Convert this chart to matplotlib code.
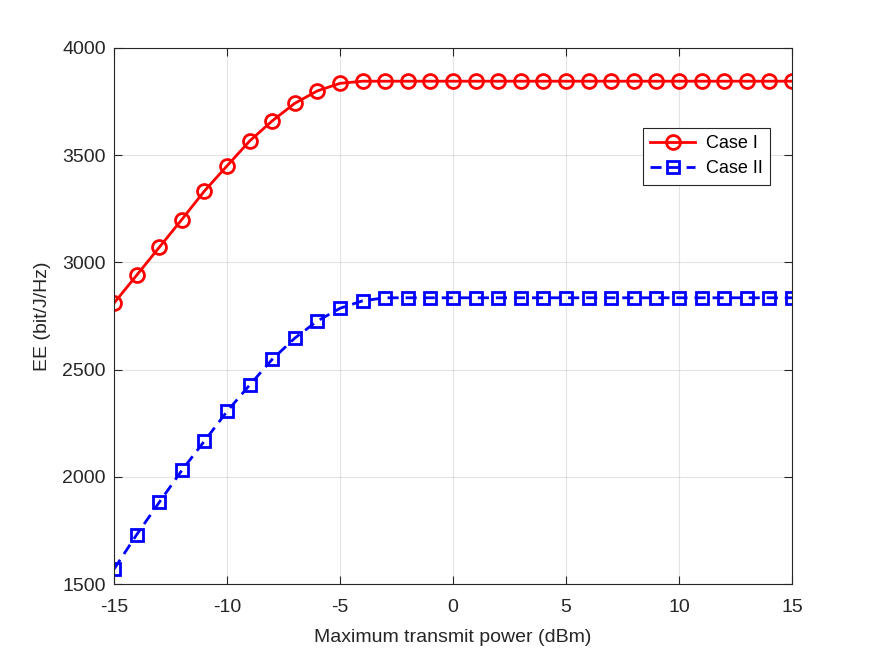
import matplotlib.pyplot as plt

plt.rcParams['font.family'] = ['Liberation Sans', 'DejaVu Sans']
plt.rcParams['axes.unicode_minus'] = False

# Maximum transmit power (dBm)
power = list(range(-15, 16))

# Case I energy efficiency
case1 = [2810, 2940, 3070, 3200, 3333, 3450, 3566, 3660, 3742, 3800, 3835] + [3845] * 20

# Case II energy efficiency
case2 = [1570, 1730, 1881, 2030, 2167, 2305, 2428, 2548, 2647, 2727, 2786, 2821] + [2835] * 19

axis_col = '#262626'

fig = plt.figure(figsize=(8.75, 6.57), dpi=100)
ax = fig.add_axes([0.1303, 0.111, 0.7749, 0.816])

ax.plot(power, case1, color='red', linestyle='-', linewidth=2, marker='o',
        markersize=10, markerfacecolor='none', markeredgewidth=2, label='Case I')
ax.plot(power, case2, color='blue', linestyle='--', linewidth=2, marker='s',
        markersize=8, markerfacecolor='none', markeredgewidth=2, label='Case II',
        dashes=(4, 2.5))

ax.set_xlim(-15, 15)
ax.set_ylim(1500, 4000)
ax.set_xticks(range(-15, 16, 5))
ax.set_yticks(range(1500, 4001, 500))

ax.grid(True, color='#262626', alpha=0.12, linewidth=0.8)
ax.tick_params(direction='in', top=True, right=True, length=6, width=0.8,
               colors=axis_col, labelsize=14, labelcolor=axis_col)
ax.tick_params(axis='x', pad=11)
ax.tick_params(axis='y', pad=6)
for s in ax.spines.values():
    s.set_color(axis_col)
    s.set_linewidth(0.8)

ax.set_xlabel('Maximum transmit power (dBm)', fontsize=14, color=axis_col, labelpad=9)
ax.set_ylabel('EE (bit/J/Hz)', fontsize=14, color=axis_col, labelpad=8)

leg = ax.legend(loc='upper right', bbox_to_anchor=(0.9676, 0.8507), fontsize=13,
                fancybox=False, framealpha=1, edgecolor=axis_col, handlelength=2.5,
                borderpad=0.4, labelspacing=0.45, handletextpad=0.6, borderaxespad=0)
leg.get_frame().set_linewidth(0.8)

plt.savefig('out.png', dpi=100)
